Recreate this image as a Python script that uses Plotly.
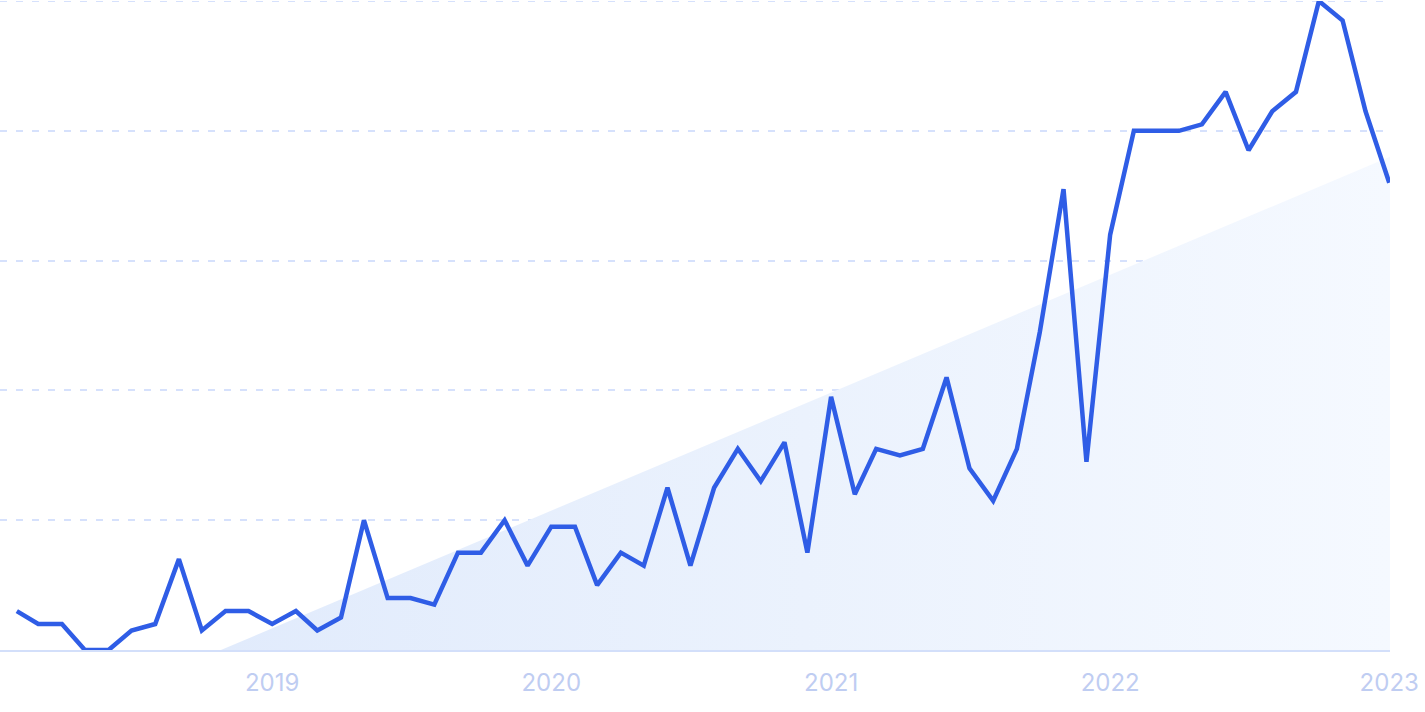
import plotly.graph_objects as go
import pandas as pd

# Monthly interest, Feb 2018 .. Jan 2023
months = pd.date_range("2018-02-01", "2023-01-01", freq="MS").strftime("%Y-%m-%d").tolist()
values = [6, 4, 4, 0, 0, 3, 4, 14, 3, 6, 6, 4,
          6, 3, 5, 20, 8, 8, 7, 15, 15, 20, 13, 19,
          19, 10, 15, 13, 25, 13, 25, 31, 26, 32, 15, 39,
          24, 31, 30, 31, 42, 28, 23, 31, 49, 71, 29, 64,
          80, 80, 80, 81, 86, 77, 83, 86, 100, 97, 83, 72]

# Trend line endpoints (start of trend at zero, end value)
trend_x = ["2018-10-26", "2023-01-02"]
trend_y = [0, 76]

tick_vals = ["2019-01-01", "2020-01-01", "2021-01-01", "2022-01-01", "2023-01-01"]
tick_text = ["2019", "2020", "2021", "2022", "2023"]

GRID = "#D6E1FC"

fig = go.Figure()
fig.add_trace(go.Scatter(
    x=trend_x, y=trend_y, mode="lines", line=dict(width=0),
    fill="tozeroy",
    fillgradient=dict(type="horizontal",
                      colorscale=[[0, "rgba(225,235,252,1)"], [0.5, "rgba(235,242,253,1)"], [1, "rgba(245,249,255,1)"]]),
    hoverinfo="skip", showlegend=False,
))
fig.add_trace(go.Scatter(
    x=months, y=values, mode="lines",
    line=dict(color="#2F5DE6", width=4.5),
    showlegend=False,
))

fig.add_shape(type="line", xref="paper", yref="y", x0=0, x1=1, y0=100, y1=100,
              line=dict(color=GRID, width=2, dash="7px,9px"), layer="below")

fig.update_layout(
    width=1425, height=712,
    margin=dict(l=0, r=35, t=1, b=62),
    paper_bgcolor="white", plot_bgcolor="white",
    font=dict(family="Inter", size=24, color="#BFCDF2"),
    xaxis=dict(
        range=["2018-01-10", "2023-01-02"],
        tickvals=tick_vals, ticktext=tick_text,
        showgrid=False, zeroline=False,
        showline=True, linecolor="#D3DFFA", linewidth=2,
        ticks="", ticklabelstandoff=10, automargin=False,
    ),
    yaxis=dict(
        range=[0, 100], dtick=20,
        showticklabels=False, zeroline=False,
        showgrid=True, gridcolor=GRID, gridwidth=2, griddash="7px,9px",
    ),
)

fig.write_html("out.html", config={"displayModeBar": False},
               post_script="document.body.style.margin='0';")
